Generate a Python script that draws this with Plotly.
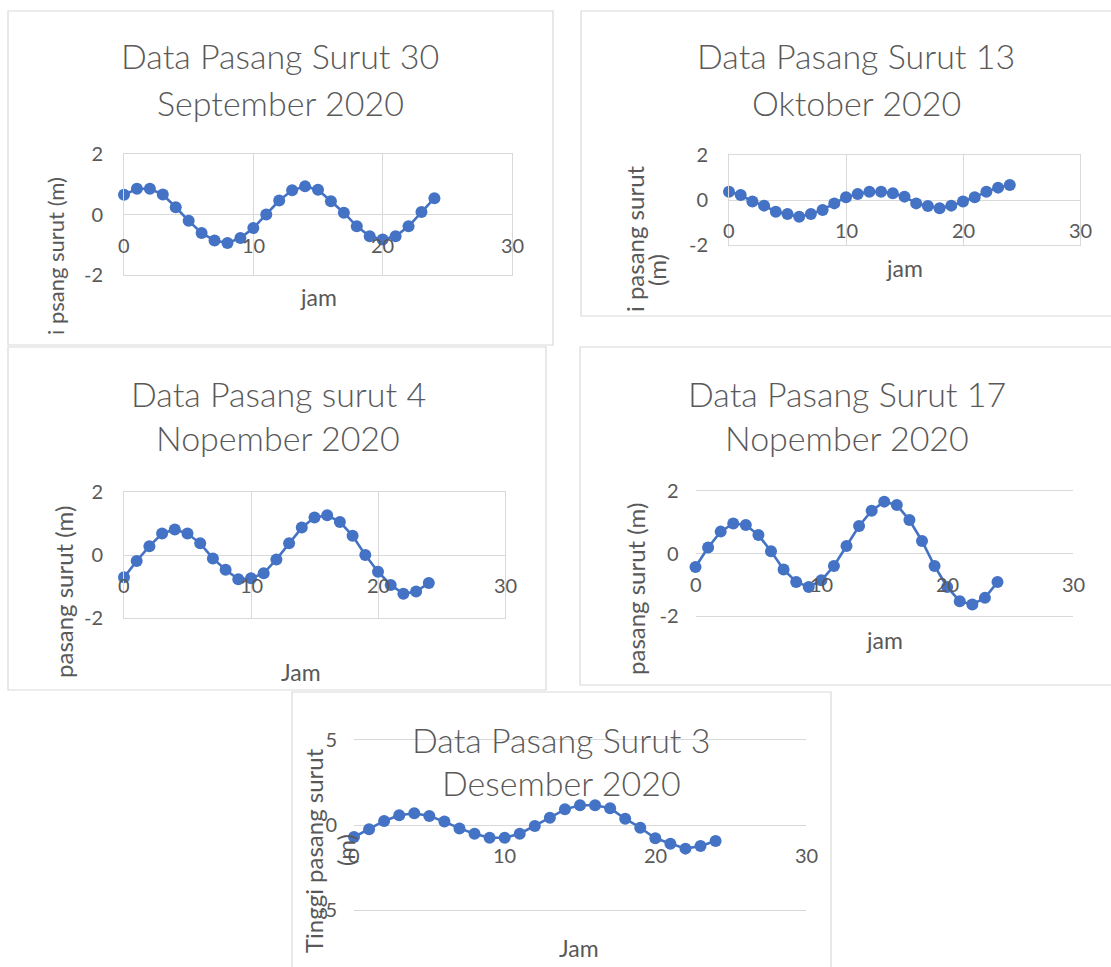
import plotly.graph_objects as go

# ---------------- data ----------------
jam = list(range(25))

sep30 = [0.65, 0.85, 0.85, 0.66, 0.24, -0.21, -0.61, -0.86, -0.94, -0.78, -0.45, 0.0, 0.46,
         0.80, 0.93, 0.82, 0.44, 0.06, -0.39, -0.72, -0.83, -0.72, -0.39, 0.08, 0.54]
okt13 = [0.37, 0.22, -0.07, -0.25, -0.52, -0.62, -0.74, -0.62, -0.44, -0.15, 0.12, 0.27, 0.37,
         0.37, 0.30, 0.15, -0.15, -0.27, -0.37, -0.25, -0.07, 0.12, 0.37, 0.55, 0.67]
nov4 = [-0.71, -0.19, 0.28, 0.68, 0.81, 0.68, 0.37, -0.11, -0.47, -0.77, -0.74, -0.58, -0.14,
        0.37, 0.87, 1.19, 1.26, 1.05, 0.61, 0.0, -0.53, -0.95, -1.23, -1.16, -0.89]
nov17 = [-0.43, 0.19, 0.70, 0.96, 0.91, 0.59, 0.07, -0.51, -0.91, -1.07, -0.86, -0.40, 0.24,
         0.88, 1.37, 1.66, 1.55, 1.07, 0.40, -0.40, -1.07, -1.53, -1.63, -1.42, -0.91]
des3 = [-0.71, -0.25, 0.24, 0.57, 0.69, 0.53, 0.20, -0.20, -0.51, -0.75, -0.75, -0.51, -0.06,
        0.43, 0.92, 1.16, 1.16, 0.98, 0.37, -0.16, -0.78, -1.10, -1.39, -1.24, -0.94]

titles = [
    ["Data Pasang Surut 30", "September 2020"],
    ["Data Pasang Surut 13", "Oktober 2020"],
    ["Data Pasang surut 4", "Nopember 2020"],
    ["Data Pasang Surut 17", "Nopember 2020"],
    ["Data Pasang Surut 3", "Desember 2020"],
]
xtitles = ["jam", "jam", "Jam", "jam", "Jam"]
# visible (clipped) y-axis titles as they appear in each panel
ytitles = [
    ["i psang surut (m)"],
    ["i pasang surut", "(m)"],
    ["pasang surut (m)"],
    ["pasang surut (m)"],
    ["Tinggi pasang surut", "(m)"],
]
xticks = [0, 10, 20, 30]
yticks_small = [-2, 0, 2]
yticks_big = [-5, 0, 5]
series = [sep30, okt13, nov4, nov17, des3]

# ---------------- layout helpers ----------------
W, H = 1111, 967
TXT = "#595959"
GRID = "#D9D9D9"
BLUE = "#4472C4"
FONT = "Lato, 'Open Sans', sans-serif"


def px(x):
    return x / W


def py(y):
    return 1 - y / H


# plot areas in pixels: left, right, top, bottom
areas = [
    (124, 512, 154, 275),
    (729, 1080, 155, 245),
    (124, 505, 492, 618),
    (695.5, 1073, 491, 616),
    (354, 806, 740, 910),
]
borders = [
    (8, 553, 11, 345),
    (581, 1130, 11, 316),
    (8, 546, 347, 690),
    (580, 1130, 347, 685),
    (292, 831, 692, 990),
]
yranges = [[-2, 2], [-2, 2], [-2, 2], [-2, 2], [-5, 5]]
boxed = [True, True, True, False, False]
title_pos = [(280, 56, 102), (856, 56, 102), (278, 393, 438), (847, 393, 438), (561, 739, 782)]
xtitle_pos = [(318, 297), (904, 268), (301, 672), (884, 640), (579, 948)]
ytitle_font = [22, 24, 24, 24, 24]
# y title lines: (x center, y center)
ytitle_pos = [
    [(55, 256)],
    [(634, 239), (657, 270)],
    [(63, 592)],
    [(635, 589)],
    [(313, 851), (345, 850)],
]

fig = go.Figure()
annotations = []
shapes = []

for i, ys in enumerate(series):
    n = "" if i == 0 else str(i + 1)
    L, R, T, B = areas[i]
    fig.add_trace(go.Scatter(
        x=jam, y=ys, mode="lines+markers",
        line=dict(color=BLUE, width=2.6),
        marker=dict(color=BLUE, size=12),
        xaxis="x" + n, yaxis="y" + n, showlegend=False, cliponaxis=False,
    ))
    yt = yticks_big if i == 4 else yticks_small
    fig.update_layout(**{
        "xaxis" + n: dict(
            domain=[px(L), px(R)], range=[0, 30], anchor="y" + n,
            showgrid=boxed[i], gridcolor=GRID, gridwidth=1,
            tickvals=xticks, showticklabels=False, ticks="", zeroline=False,
            showline=True, mirror=True, linecolor=GRID, linewidth=1,
            fixedrange=True,
        ),
        "yaxis" + n: dict(
            domain=[py(B), py(T)], range=yranges[i], anchor="x" + n,
            showgrid=True, gridcolor=GRID, gridwidth=1,
            tickvals=yt, ticktext=[str(v) for v in yt], ticks="", zeroline=False,
            showline=boxed[i], mirror=boxed[i], linecolor=GRID, linewidth=1,
            tickfont=dict(family=FONT, size=20, color=TXT),
            ticklabelstandoff=16, fixedrange=True,
        ),
    })
    # x tick labels next to the y=0 axis crossing
    for v in xticks:
        annotations.append(dict(
            x=v, y=0, xref="x" + n, yref="y" + n, text=str(v), showarrow=False,
            yshift=-30, font=dict(family=FONT, size=20, color=TXT),
        ))
    # chart titles
    tx, ty1, ty2 = title_pos[i]
    for line, yy in zip(titles[i], (ty1, ty2)):
        annotations.append(dict(
            x=px(tx), y=py(yy), xref="paper", yref="paper", text=line, showarrow=False,
            xanchor="center", yanchor="middle",
            font=dict(family=FONT, size=34, color=TXT, weight=300),
        ))
    # x axis title
    ax_, ay_ = xtitle_pos[i]
    annotations.append(dict(
        x=px(ax_), y=py(ay_), xref="paper", yref="paper", text=xtitles[i], showarrow=False,
        xanchor="center", yanchor="middle", font=dict(family=FONT, size=23, color=TXT),
    ))
    # y axis title (rotated)
    for line, (yx, yy) in zip(ytitles[i], ytitle_pos[i]):
        annotations.append(dict(
            x=px(yx), y=py(yy), xref="paper", yref="paper", text=line, showarrow=False,
            textangle=-90, xanchor="center", yanchor="middle",
            font=dict(family=FONT, size=ytitle_font[i], color=TXT),
        ))
    # panel border
    bL, bR, bT, bB = borders[i]
    shapes.append(dict(
        type="rect", xref="paper", yref="paper",
        x0=px(bL), x1=px(bR), y0=py(bB), y1=py(bT),
        line=dict(color=GRID, width=1.2), fillcolor="rgba(0,0,0,0)", layer="below",
    ))

fig.update_layout(
    width=W, height=H,
    margin=dict(l=0, r=0, t=0, b=0, pad=0, autoexpand=False),
    paper_bgcolor="white", plot_bgcolor="rgba(0,0,0,0)",
    annotations=annotations, shapes=shapes, showlegend=False,
)

fig.write_html(
    "out.html",
    config={"displayModeBar": False},
    post_script="document.body.style.margin='0';document.body.style.overflow='hidden';",
)
